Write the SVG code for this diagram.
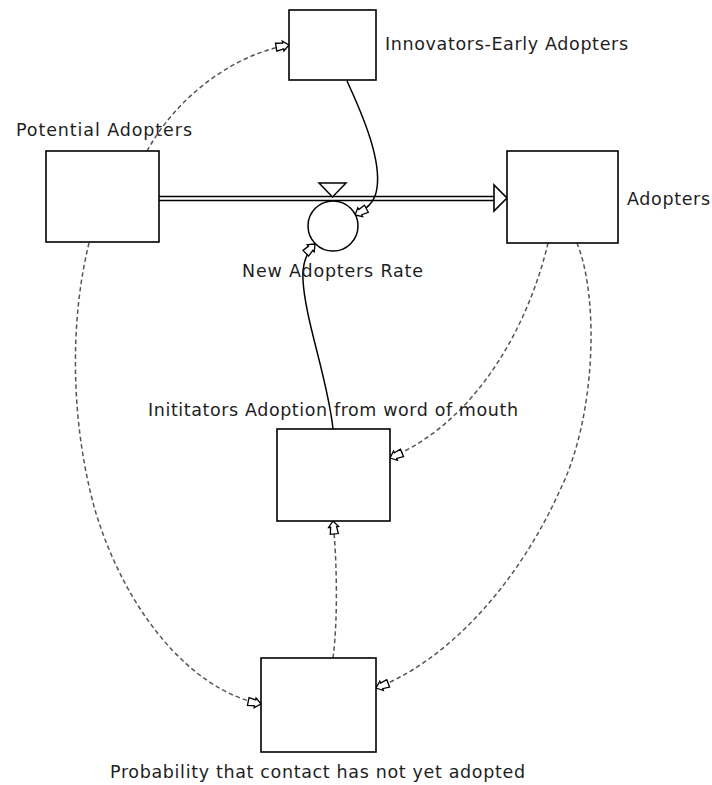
<svg xmlns="http://www.w3.org/2000/svg" width="712" height="785" viewBox="0 0 712 785">
  <style>
    .box { fill: #ffffff; stroke: #000000; stroke-width: 1.6; }
    .lbl { font-family: "DejaVu Sans", "Liberation Sans", sans-serif; font-size: 17.5px; fill: #1e1e1e; }
    .dash { fill: none; stroke: #555555; stroke-width: 1.5; stroke-dasharray: 4.5 3; marker-end: url(#hollow); }
    .link { fill: none; stroke: #000000; stroke-width: 1.5; marker-end: url(#hollow); }
    .pipe { fill: none; stroke: #000000; stroke-width: 1.4; }
  </style>
  <defs>
    <!-- small hollow arrowhead used by all information links -->
    <marker id="hollow" markerUnits="userSpaceOnUse" markerWidth="18" markerHeight="16" refX="15" refY="7" orient="auto" overflow="visible">
      <path d="M15,7 L9,2 L9,4 L2,3 L2,11 L9,10 L9,12 Z" fill="#ffffff" stroke="#000000" stroke-width="1.3" stroke-linejoin="miter"/>
    </marker>
  </defs>

  <rect width="712" height="785" fill="#ffffff"/>

  <!-- flow pipe from Potential Adopters into Adopters -->
  <g id="flow">
    <rect x="159" y="196.5" width="336" height="4" fill="#ffffff"/>
    <line class="pipe" x1="159" y1="196.5" x2="495" y2="196.5"/>
    <line class="pipe" x1="159" y1="200.5" x2="495" y2="200.5"/>
    <polygon points="494,185 494,211 507,198" fill="#ffffff" stroke="#000000" stroke-width="1.6"/>
  </g>

  <!-- information links -->
  <g id="connectors">
    <path class="dash" d="M147,151 C175,100 230,55 289,45"/>
    <path class="link" d="M347,81 C365,120 381,160 377,188 C375,203 366,209 355,215"/>
    <path class="link" d="M333,429 C328,380 305,320 303,280 C302,265 307,252 315,244"/>
    <path class="dash" d="M548,243 C530,320 480,420 390,458"/>
    <path class="dash" d="M577,243 C600,300 595,420 560,490 C520,580 450,660 376,688"/>
    <path class="dash" d="M89,243 C70,320 70,420 95,510 C125,610 190,690 261,704"/>
    <path class="dash" d="M333,658 C338,620 337,560 333,521"/>
  </g>

  <!-- valve / rate -->
  <g id="new-adopters-rate">
    <polygon points="319,183 346,183 332.5,197" fill="#ffffff" stroke="#000000" stroke-width="1.5"/>
    <circle cx="333" cy="226" r="25" fill="#ffffff" stroke="#000000" stroke-width="1.5"/>
    <text class="lbl" x="242" y="277" textLength="181" lengthAdjust="spacing">New Adopters Rate</text>
  </g>

  <g id="innovators">
    <rect class="box" x="289" y="10" width="87" height="70"/>
    <text class="lbl" x="385" y="50" textLength="243" lengthAdjust="spacing">Innovators-Early Adopters</text>
  </g>

  <g id="potential-adopters">
    <rect class="box" x="46" y="151" width="113" height="91"/>
    <text class="lbl" x="16" y="136" textLength="176" lengthAdjust="spacing">Potential Adopters</text>
  </g>

  <g id="adopters">
    <rect class="box" x="507" y="151" width="111" height="92"/>
    <text class="lbl" x="627" y="205" textLength="83" lengthAdjust="spacing">Adopters</text>
  </g>

  <g id="word-of-mouth">
    <rect class="box" x="277" y="429" width="113" height="92"/>
    <text class="lbl" x="148" y="416" textLength="370" lengthAdjust="spacing">Inititators Adoption from word of mouth</text>
  </g>

  <g id="probability">
    <rect class="box" x="261" y="658" width="115" height="94"/>
    <text class="lbl" x="110" y="778" textLength="415" lengthAdjust="spacing">Probability that contact has not yet adopted</text>
  </g>
</svg>
